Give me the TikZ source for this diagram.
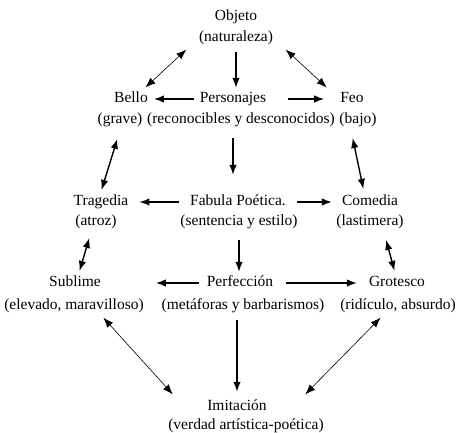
\documentclass[tikz,border=0pt]{standalone}
\usepackage{fontspec}
\setmainfont{Liberation Serif}
\usepackage{tikz}
\usetikzlibrary{arrows.meta}
\tikzset{
    tnode/.style = {align=center, inner sep=3pt, text height=11pt, text depth=3pt, font=\fontsize{15.5}{18}\selectfont},
    head_node/.style = {tnode},
    sub_node/.style = {tnode},
    one_way/.style = {->, line width=1.4pt},
    two_way/.style = {<->, line width=1.4pt},
    thin_way/.style = {<->, line width=0.6pt}
}

\begin{document}
\begin{tikzpicture}
            [x=1pt, y=-1pt, >={Latex[length=10pt,width=7.5pt]}]
            \useasboundingbox (0,0) rectangle (456,433);

            % top
            \node [head_node] (objeto) at (236,17) {Objeto};
            \node [sub_node] (objeto_sub) at (236,38) {(naturaleza)};

            % second row
            \node [head_node] (bello) at (131,99) {Bello};
            \node [sub_node] (bello_sub) at (120,120) {(grave)};
            \node [head_node] (personajes) at (233,99) {Personajes};
            \node [sub_node] (personajes_sub) at (241,120) {(reconocibles y desconocidos)};
            \node [head_node] (feo) at (352,99) {Feo};
            \node [sub_node] (feo_sub) at (358,120) {(bajo)};

            % third row
            \node [head_node] (tragedia) at (101,202) {Tragedia};
            \node [sub_node] (tragedia_sub) at (96,222) {(atroz)};
            \node [head_node] (fabula) at (238,202) {Fabula Poética.};
            \node [sub_node] (fabula_sub) at (239,222) {(sentencia y estilo)};
            \node [head_node] (comedia) at (370,202) {Comedia};
            \node [sub_node] (comedia_sub) at (370,222) {(lastimera)};

            % fourth row
            \node [head_node] (sublime) at (75,283) {Sublime};
            \node [sub_node] (sublime_sub) at (74,306) {(elevado, maravilloso)};
            \node [head_node] (perfeccion) at (240,283) {Perfección};
            \node [sub_node] (perfeccion_sub) at (243,306) {(metáforas y barbarismos)};
            \node [head_node] (grotesco) at (397,283) {Grotesco};
            \node [sub_node] (grotesco_sub) at (398,306) {(ridículo, absurdo)};

            % bottom
            \node [head_node] (imitacion) at (237,406) {Imitación};
            \node [sub_node] (imitacion_sub) at (246,425) {(verdad artística-poética)};

            % connectors
            \draw [one_way, shorten <=4pt, shorten >=1pt] (objeto_sub.south) -- (objeto_sub.south |- personajes.north);
            \draw [thin_way, shorten <=2pt, shorten >=2pt] ([xshift=-8pt]objeto_sub.south west) -- ([xshift=-7pt]bello.north east);
            \draw [thin_way, shorten <=2pt, shorten >=2pt] ([xshift=8pt]objeto_sub.south east) -- ([xshift=-9pt]feo.north west);

            \draw [one_way, shorten <=3pt, shorten >=3pt] (personajes.west) -- (bello.east);
            \draw [one_way, shorten <=19pt, shorten >=13pt] (personajes.east) -- (feo.west);
            \draw [one_way, shorten <=8pt, shorten >=17pt] (personajes.south |- personajes_sub.south) -- (personajes.south |- fabula.north);

            \draw [two_way, shorten <=9pt, shorten >=2pt] (bello_sub.south) -- (tragedia.north);
            \draw [two_way, shorten <=8pt, shorten >=3pt] ([xshift=-7pt]feo_sub.south) -- ([xshift=-6pt]comedia.north);

            \draw [one_way, shorten <=8pt, shorten >=8pt] (fabula.west) -- (tragedia.east);
            \draw [one_way, shorten <=8pt, shorten >=7pt] (fabula.east) -- (comedia.west);
            \draw [one_way, shorten <=8pt, shorten >=1pt] (fabula_sub.south) -- (fabula_sub.south |- perfeccion.north);

            \draw [two_way, shorten <=6pt, shorten >=2pt] ([xshift=-5pt]tragedia_sub.south) -- ([xshift=4pt]sublime.north);
            \draw [two_way, shorten <=8pt, shorten >=2pt] ([xshift=14pt]comedia_sub.south) -- ([xshift=-2pt]grotesco.north);

            \draw [one_way, shorten <=5pt, shorten >=9pt] (perfeccion.west) -- (sublime_sub.east |- perfeccion.west);
            \draw [one_way, shorten <=10pt, shorten >=9pt] (perfeccion.east) -- (grotesco.west);
            \draw [one_way, shorten <=4pt, shorten >=4pt] (perfeccion_sub.south -| imitacion) -- (imitacion.north);

            \draw [thin_way, shorten <=2pt, shorten >=2pt] ([xshift=28pt]sublime_sub.south) -- ([xshift=-30pt]imitacion.north west);
            \draw [thin_way, shorten <=2pt, shorten >=2pt] ([xshift=-16pt]grotesco_sub.south) -- ([xshift=34pt]imitacion.north east);
\end{tikzpicture}
\end{document}
